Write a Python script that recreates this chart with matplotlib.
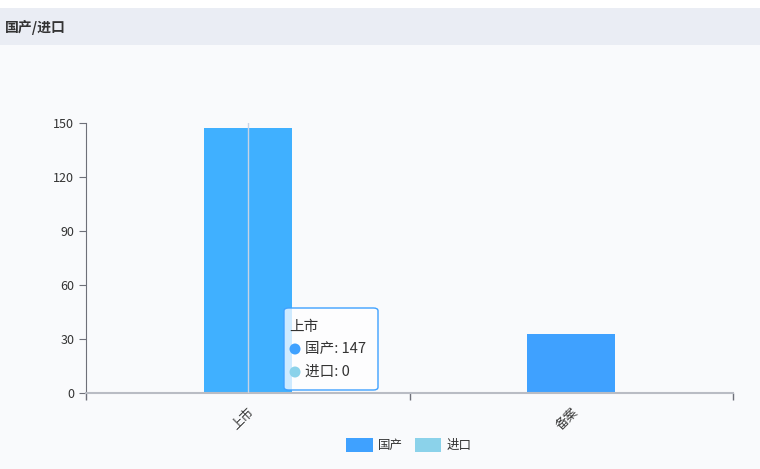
import matplotlib.pyplot as plt
from matplotlib.patches import Rectangle, FancyBboxPatch, Patch, Ellipse
import numpy as np

plt.rcParams['font.family'] = ['Noto Sans CJK SC', 'DejaVu Sans']

categories = ['上市', '备案']
domestic = [147, 33]
imported = [0, 0]
yticks = [0, 30, 60, 90, 120, 150]

c_dom = '#3fa1ff'
c_dom_hi = '#40b0ff'
c_imp = '#8bd2ea'

W, H = 760, 469
fig = plt.figure(figsize=(W / 100, H / 100), dpi=100, facecolor='#f9fafc')

# header strip
fig.patches.append(Rectangle((0, 1 - 8 / H), 1, 8 / H, transform=fig.transFigure,
                             facecolor='white', edgecolor='none', zorder=0))
fig.patches.append(Rectangle((0, 1 - 45 / H), 1, 37 / H, transform=fig.transFigure,
                             facecolor='#eaedf4', edgecolor='none', zorder=0))
fig.text(5 / W, 1 - 27 / H, '国产/进口', fontsize=10, fontweight='bold',
         color='#333333', va='center', ha='left')

ax = fig.add_axes([86 / W, 1 - 393 / H, (733 - 86) / W, (393 - 123) / H])
ax.set_facecolor('none')

x = np.arange(len(categories))
colors = [c_dom_hi, c_dom]
ax.bar(x, domestic, width=0.272, color=colors, zorder=2)
ax.bar(x, imported, width=0.272, bottom=domestic, color=c_imp, zorder=2)

ax.set_xlim(-0.5, len(categories) - 0.5)
ax.set_ylim(0, 150)
ax.set_yticks(yticks)
ax.set_xticks(np.arange(len(categories) + 1) - 0.5)
ax.set_xticklabels([])
ax.set_xticks(x, minor=True)
ax.set_xticklabels(categories, minor=True, rotation=45, ha='right',
                   rotation_mode='anchor', fontsize=9, color='#333333')
ax.tick_params(axis='x', which='minor', length=0, pad=9)
ax.tick_params(axis='x', which='major', length=5, color='#6e7079', width=1)
ax.tick_params(axis='y', length=5, color='#6e7079', labelsize=9, labelcolor='#333333')

for s in ['top', 'right']:
    ax.spines[s].set_visible(False)
ax.spines['left'].set_color('#6e7079')
ax.spines['bottom'].set_color('#b9bcc4')
ax.spines['bottom'].set_linewidth(1.5)

# hover pointer line on first category
ax.axvline(x[0], color='#c8d4e6', linewidth=1, zorder=3)

# tooltip
tx0, ty0, tw, th = 284, 308, 94, 82
fig.patches.append(FancyBboxPatch((tx0 / W, 1 - (ty0 + th) / H), tw / W, th / H,
                                  boxstyle='round,pad=0,rounding_size=0.006',
                                  transform=fig.transFigure, facecolor=(1, 1, 1, 0.75),
                                  edgecolor=c_dom, linewidth=1, zorder=5))
fig.text(289 / W, 1 - 327 / H, categories[0], fontsize=10.5, color='#333333',
         va='center', ha='left', zorder=6)
for yy, col, txt in [(349, c_dom, f'国产: {domestic[0]}'), (372, c_imp, f'进口: {imported[0]}')]:
    fig.patches.append(Ellipse((295 / W, 1 - yy / H), 11 / W, 11 / H,
                               transform=fig.transFigure, facecolor=col,
                               edgecolor='none', zorder=6))
    fig.text(305 / W, 1 - yy / H, txt, fontsize=10.5, color='#333333',
             va='center', ha='left', zorder=6)

handles = [Patch(facecolor=c_dom, edgecolor='none', label='国产'),
           Patch(facecolor=c_imp, edgecolor='none', label='进口')]
fig.legend(handles=handles, loc='center', bbox_to_anchor=(409 / W, 1 - 445 / H),
           ncol=2, frameon=False, fontsize=9, handlelength=2.1, handleheight=1.3,
           columnspacing=1.0, handletextpad=0.4, labelcolor='#333333')

fig.savefig('out.png', dpi=100, facecolor=fig.get_facecolor())
